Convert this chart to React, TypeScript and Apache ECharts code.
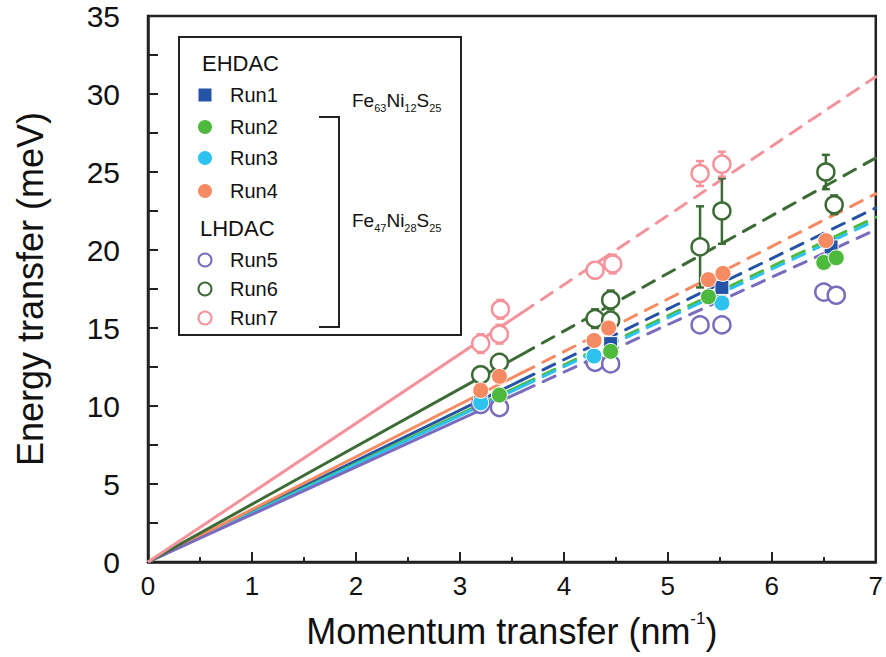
import React, { useEffect, useRef } from 'react';
import * as echarts from 'echarts';

const FONT = '"Liberation Sans", Arial, Helvetica, sans-serif';

// Axis ranges / ticks
const xRange = [0, 7];
const yRange = [0, 35];

// Run metadata
const runNames = ['Run1', 'Run2', 'Run3', 'Run4', 'Run5', 'Run6', 'Run7'];
const runColors = ['#2553a6', '#4dba3d', '#2ec3ef', '#f68a62', '#7a6bbd', '#3d6b35', '#f4939b'];
const runFilled = [true, true, true, true, false, false, false];
const runSymbols = ['rect', 'circle', 'circle', 'circle', 'circle', 'circle', 'circle'];

// Data points: [momentum transfer, energy transfer, error]
const run1 = [[3.2, 10.5, 0.4], [4.45, 14.0, 0.6], [5.52, 17.6, 0.5], [6.57, 20.2, 0.5]];
const run2 = [[3.38, 10.7, 0.3], [4.45, 13.5, 0.3], [5.39, 17.0, 0.3], [6.5, 19.2, 0.3], [6.62, 19.5, 0.3]];
const run3 = [[3.2, 10.2, 0.3], [4.29, 13.2, 0.3], [5.52, 16.6, 0.3]];
const run4 = [[3.2, 11.0, 0.3], [3.38, 11.9, 0.3], [4.29, 14.2, 0.3], [4.43, 15.0, 0.3], [5.39, 18.1, 0.3], [5.53, 18.5, 0.3], [6.52, 20.6, 0.3]];
const run5 = [[3.2, 10.1, 0.4], [3.38, 9.9, 0.4], [4.3, 12.8, 0.4], [4.45, 12.7, 0.4], [5.31, 15.2, 0.4], [5.52, 15.2, 0.4], [6.5, 17.3, 0.4], [6.62, 17.1, 0.4]];
const run6 = [[3.2, 12.0, 0.5], [3.38, 12.8, 0.5], [4.3, 15.6, 0.6], [4.45, 16.8, 0.6], [4.45, 15.5, 0.5], [5.31, 20.2, 2.6], [5.52, 22.5, 2.1], [6.52, 25.0, 1.1], [6.6, 22.9, 0.6]];
const run7 = [[3.2, 14.0, 0.6], [3.38, 14.6, 0.6], [3.39, 16.2, 0.6], [4.3, 18.7, 0.5], [4.47, 19.1, 0.6], [5.31, 24.9, 0.8], [5.52, 25.5, 0.8]];
const runData = [run1, run2, run3, run4, run5, run6, run7];

// Linear fits through origin: value of each fit at x = 7
const fitAt7 = [22.7, 22.1, 21.9, 23.6, 21.3, 25.9, 31.1];
const solidEnd = 3.6;

export default function App() {
  const ref = useRef<HTMLDivElement>(null);

  useEffect(() => {
    if (!ref.current) return;
    const chart = echarts.init(ref.current, undefined, { renderer: 'svg' });

    const series: any[] = [];
    // fit lines
    runNames.forEach((name, i) => {
      const yEnd = fitAt7[i];
      const ySolid = (yEnd * solidEnd) / xRange[1];
      series.push({
        type: 'line',
        name: name + ' fit',
        data: [[0, 0], [solidEnd, ySolid]],
        symbol: 'none',
        lineStyle: { color: runColors[i], width: 3 },
        z: 2,
        silent: true,
      });
      series.push({
        type: 'line',
        name: name + ' fit dashed',
        data: [[solidEnd, ySolid], [xRange[1], yEnd]],
        symbol: 'none',
        lineStyle: { color: runColors[i], width: 3, type: [13, 10], cap: 'round' },
        z: 2,
        silent: true,
      });
    });
    // error bars
    const order = [4, 5, 6, 0, 2, 1, 3];
    order.forEach((i) => {
      const color = runColors[i];
      series.push({
        type: 'custom',
        name: runNames[i] + ' err',
        data: runData[i],
        encode: { x: 0, y: 1 },
        z: 3,
        silent: true,
        renderItem: (params: any, api: any) => {
          const x = api.value(0);
          const y = api.value(1);
          const e = api.value(2);
          const top = api.coord([x, y + e]);
          const bot = api.coord([x, y - e]);
          const cw = 4;
          const st = { stroke: color, lineWidth: 2.5 };
          return {
            type: 'group',
            children: [
              { type: 'line', shape: { x1: top[0], y1: top[1], x2: bot[0], y2: bot[1] }, style: st },
              { type: 'line', shape: { x1: top[0] - cw, y1: top[1], x2: top[0] + cw, y2: top[1] }, style: st },
              { type: 'line', shape: { x1: bot[0] - cw, y1: bot[1], x2: bot[0] + cw, y2: bot[1] }, style: st },
            ],
          };
        },
      });
    });
    // markers
    order.forEach((i) => {
      const filled = runFilled[i];
      series.push({
        type: 'scatter',
        name: runNames[i],
        data: runData[i].map((d) => [d[0], d[1]]),
        symbol: runSymbols[i],
        symbolSize: runSymbols[i] === 'rect' ? 14 : filled ? 16 : 17,
        itemStyle: filled
          ? { color: runColors[i], borderColor: '#ffffff', borderWidth: 1, opacity: 1 }
          : { color: '#ffffff', borderColor: runColors[i], borderWidth: 2.5, opacity: 1 },
        z: filled ? 5 : 4,
      });
    });

    const legendRows = [
      { label: 'Run1', y: 95, i: 0 },
      { label: 'Run2', y: 127, i: 1 },
      { label: 'Run3', y: 158, i: 2 },
      { label: 'Run4', y: 191, i: 3 },
      { label: 'Run5', y: 260, i: 4 },
      { label: 'Run6', y: 289, i: 5 },
      { label: 'Run7', y: 318, i: 6 },
    ];
    const graphics: any[] = [
      {
        type: 'rect',
        shape: { x: 179, y: 37, width: 282, height: 298 },
        style: { fill: '#ffffff', stroke: '#222222', lineWidth: 2 },
        z: 10,
      },
      {
        type: 'text', x: 202, y: 63, z: 11,
        style: { text: 'EHDAC', fontSize: 22, fontFamily: FONT, fill: '#111', verticalAlign: 'middle' },
      },
      {
        type: 'text', x: 200, y: 228, z: 11,
        style: { text: 'LHDAC', fontSize: 22, fontFamily: FONT, fill: '#111', verticalAlign: 'middle' },
      },
      {
        type: 'polyline', z: 11,
        shape: { points: [[319, 117], [339, 117], [339, 327], [319, 327]] },
        style: { stroke: '#222222', lineWidth: 2, fill: 'none' },
      },
      {
        type: 'text', x: 352, y: 100, z: 11,
        style: {
          text: '{n|Fe}{s|63}{n|Ni}{s|12}{n|S}{s|25}',
          verticalAlign: 'middle',
          rich: {
            n: { fontSize: 19, fontFamily: FONT, fill: '#111', lineHeight: 26 },
            s: { fontSize: 11, fontFamily: FONT, fill: '#111', verticalAlign: 'bottom' },
          },
        },
      },
      {
        type: 'text', x: 352, y: 220, z: 11,
        style: {
          text: '{n|Fe}{s|47}{n|Ni}{s|28}{n|S}{s|25}',
          verticalAlign: 'middle',
          rich: {
            n: { fontSize: 19, fontFamily: FONT, fill: '#111', lineHeight: 26 },
            s: { fontSize: 11, fontFamily: FONT, fill: '#111', verticalAlign: 'bottom' },
          },
        },
      },
    ];
    legendRows.forEach((r) => {
      const c = runColors[r.i];
      if (runSymbols[r.i] === 'rect') {
        graphics.push({ type: 'rect', z: 11, shape: { x: 198.5, y: r.y - 6.5, width: 13, height: 13 }, style: { fill: c } });
      } else if (runFilled[r.i]) {
        graphics.push({ type: 'circle', z: 11, shape: { cx: 205, cy: r.y, r: 7 }, style: { fill: c } });
      } else {
        graphics.push({ type: 'circle', z: 11, shape: { cx: 205, cy: r.y, r: 6.5 }, style: { fill: '#fff', stroke: c, lineWidth: 2 } });
      }
      graphics.push({
        type: 'text', x: 230, y: r.y, z: 11,
        style: { text: r.label, fontSize: 20, fontFamily: FONT, fill: '#111', verticalAlign: 'middle' },
      });
    });

    chart.setOption({
      animation: false,
      backgroundColor: '#ffffff',
      grid: {
        left: 148, right: 3, top: 16, bottom: 94,
        show: true, borderColor: '#222222', borderWidth: 2.5, backgroundColor: 'transparent',
      },
      xAxis: {
        type: 'value',
        min: xRange[0], max: xRange[1], interval: 1,
        name: 'Momentum transfer (nm{sup|-1})',
        nameLocation: 'middle',
        nameGap: 48,
        nameTextStyle: {
          fontSize: 36, fontFamily: FONT, color: '#111', lineHeight: 42,
          rich: { sup: { fontSize: 17, fontFamily: FONT, color: '#111', verticalAlign: 'top' } },
        },
        axisLine: { show: true, lineStyle: { color: '#222', width: 2.5 } },
        axisTick: { show: true, inside: true, length: 10, lineStyle: { color: '#222', width: 2 } },
        minorTick: { show: true, splitNumber: 2, length: 5, lineStyle: { color: '#222', width: 2 } },
        axisLabel: { fontSize: 26, fontFamily: FONT, color: '#111', margin: 11 },
        splitLine: { show: false },
      },
      yAxis: {
        type: 'value',
        min: yRange[0], max: yRange[1], interval: 5,
        name: 'Energy transfer (meV)',
        nameLocation: 'middle',
        nameGap: 100,
        nameTextStyle: { fontSize: 36, fontFamily: FONT, color: '#111' },
        axisLine: { show: true, lineStyle: { color: '#222', width: 2.5 } },
        axisTick: { show: true, inside: true, length: 10, lineStyle: { color: '#222', width: 2 } },
        minorTick: { show: true, splitNumber: 2, length: 10, lineStyle: { color: '#222', width: 2 } },
        axisLabel: { fontSize: 30, fontFamily: FONT, color: '#111', margin: 28, padding: [6, 0, 0, 0] },
        splitLine: { show: false },
      },
      series,
      graphic: graphics,
    });

    return () => chart.dispose();
  }, []);

  return (
    <div
      ref={ref}
      style={{ position: 'fixed', left: 0, top: 0, width: 886, height: 657, background: '#fff' }}
    />
  );
}
